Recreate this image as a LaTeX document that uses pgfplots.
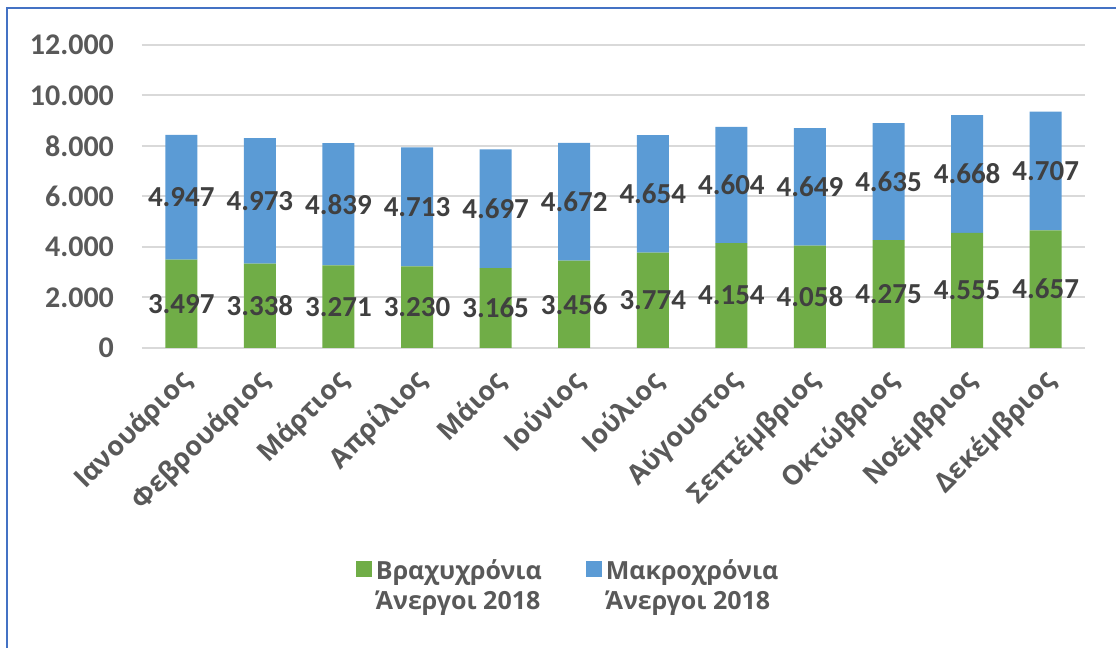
\documentclass[border=0pt]{standalone}
\usepackage{fontspec}
\setmainfont{Carlito}[Numbers=Lining]
\newfontfamily\osans{Open Sans}
\usepackage{pgfplots}
\usepackage{pgfplotstable}
\pgfplotsset{compat=1.18}
\definecolor{cgreen}{HTML}{70AD47}
\definecolor{cblue}{HTML}{5B9BD5}
\definecolor{tgray}{HTML}{595959}
\definecolor{dgray}{HTML}{404040}
\definecolor{cgrid}{HTML}{D9D9D9}
\definecolor{cframe}{HTML}{4472C4}
\pgfplotstableread{
x g b
0 3497 4947
1 3338 4973
2 3271 4839
3 3230 4713
4 3165 4697
5 3456 4672
6 3774 4654
7 4154 4604
8 4058 4649
9 4275 4635
10 4555 4668
11 4657 4707
}\data
\begin{document}
\begin{tikzpicture}[x=1pt,y=1pt]
\useasboundingbox (0,0) rectangle (558,324);
\draw[cframe, line width=1.3pt] (3.5,-2) -- (3.5,320) -- (560,320);
\begin{axis}[
  at={(71pt,150pt)}, anchor=south west,
  scale only axis, width=471.5pt, height=151.5pt,
  ybar stacked, bar width=16pt,
  xmin=-0.5, xmax=11.5, ymin=0, ymax=12000,
  xtick=data,
  xticklabels={Ιανουάριος,Φεβρουάριος,Μάρτιος,Απρίλιος,Μάιος,Ιούνιος,Ιούλιος,Αύγουστος,Σεπτέμβριος,Οκτώβριος,Νοέμβριος,Δεκέμβριος},
  ytick={0,2000,4000,6000,8000,10000,12000},
  scaled y ticks=false,
  axis line style={draw=none},
  tick style={draw=none},
  ymajorgrids, grid style={cgrid, line width=1pt},
  yticklabel style={font=\bfseries\fontsize{15}{18}\selectfont, text=tgray, xshift=-10.5pt,
    /pgf/number format/fixed, /pgf/number format/1000 sep={.}, /pgf/number format/assume math mode=true},
  xticklabel style={font=\osans\bfseries\fontsize{13.5}{15}\selectfont, text=tgray, xshift=5.5pt, yshift=-12pt, rotate=45, anchor=east},
  point meta=rawy,
  nodes near coords={\pgfmathprintnumber[fixed,precision=0,1000 sep={.},assume math mode=true]{\pgfplotspointmeta}},
  every node near coord/.append style={anchor=center, font=\bfseries\fontsize{14.5}{17}\selectfont, text=dgray},
  legend style={at={(0.453,-0.672)}, anchor=north, draw=none, fill=none, font=\osans\bfseries\fontsize{12.5}{15}\selectfont, text=tgray, nodes={align=left}, /tikz/every even column/.append style={column sep=20pt}},
  legend columns=2,
  legend cell align=left,
  legend image code/.code={\draw[#1, draw=none] (0pt,4.5pt) rectangle (8pt,12.5pt);},
]
\addplot[fill=cgreen, draw=none] table[x=x, y=g]{\data};
\addlegendentry{Βραχυχρόνια\\Άνεργοι 2018}
\addplot[fill=cblue, draw=none] table[x=x, y=b]{\data};
\addlegendentry{Μακροχρόνια\\Άνεργοι 2018}
\end{axis}
\end{tikzpicture}
\end{document}
